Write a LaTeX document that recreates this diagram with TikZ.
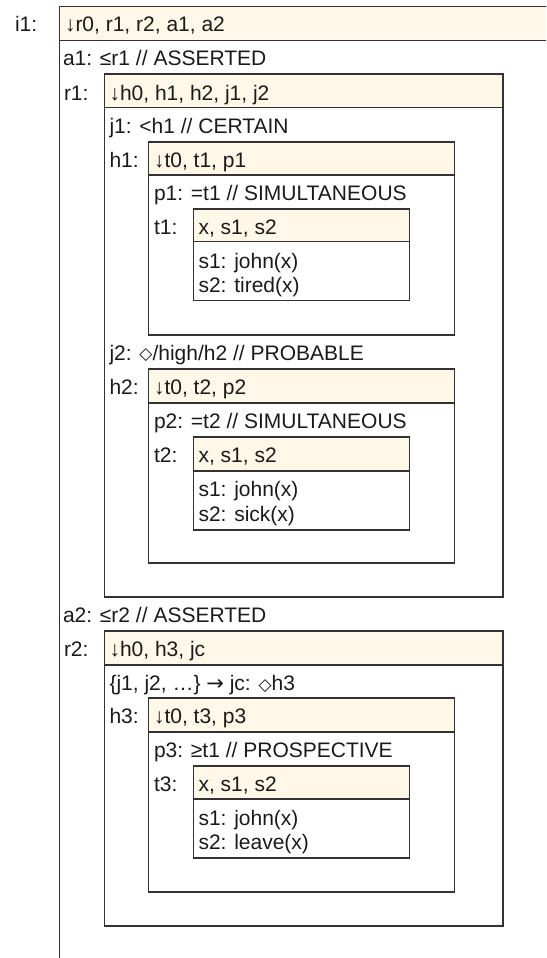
\documentclass[tikz,border=0pt]{standalone}
\usepackage{fontspec}
\setmainfont{Liberation Sans}
\newfontfamily\symfont{DejaVu Sans}
\definecolor{cream}{HTML}{FFF7E8}
\definecolor{edge}{HTML}{333333}
\definecolor{ink}{HTML}{1A1A1A}
\newcommand\fs{\fontsize{21}{24}\selectfont}
\newcommand\dia{\raisebox{0.5pt}{\symfont\fontsize{17}{17}\selectfont ◇}}
\newcommand\rarr{{\symfont →}}
\tikzset{
  frame/.style={draw=edge, line width=1.5pt, rectangle, anchor=north west, inner sep=0pt, outer sep=0pt},
  hdr/.style={frame, fill=cream},
  txt/.style={anchor=base west, inner sep=0pt, outer sep=0pt, font=\fs, text=ink},
}
\begin{document}
\begin{tikzpicture}[x=1pt,y=-1pt]
\useasboundingbox (0,0) rectangle (546,958);
\clip (0,0) rectangle (546,958);
% i1
\node[frame, minimum width=560, minimum height=1000] (i1) at (59.5,6.7) {};
\node[hdr, minimum width=560, minimum height=34] (i1h) at (59.5,6.7) {};
\node[txt] (i1l) at (15,32) {i1:};
\node[txt] (i1t) at (65,32) {↓r0, r1, r2, a1, a2};
\node[txt] (a1) at (63,66) {a1: ≤r1 // ASSERTED};
\node[txt] (r1l) at (64,100) {r1:};
% r1
\node[frame, minimum width=398.5, minimum height=523] (r1) at (104.5,74) {};
\node[hdr, minimum width=398.5, minimum height=33.3] (r1h) at (104.5,74) {};
\node[txt] (r1t) at (109.5,100) {↓h0, h1, h2, j1, j2};
\node[txt] (j1) at (109.5,133) {j1: <h1 // CERTAIN};
\node[txt] (h1l) at (109.5,167) {h1:};
% h1
\node[frame, minimum width=306, minimum height=193] (h1) at (148.7,142) {};
\node[hdr, minimum width=306, minimum height=33] (h1h) at (148.7,142) {};
\node[txt] (h1t) at (154,167) {↓t0, t1, p1};
\node[txt] (p1) at (154,200) {p1: =t1 // SIMULTANEOUS};
\node[txt] (t1l) at (154,234) {t1:};
% t1
\node[frame, minimum width=216, minimum height=91.7] (t1) at (193.7,209) {};
\node[hdr, minimum width=216, minimum height=32.7] (t1h) at (193.7,209) {};
\node[txt] (t1t) at (198.5,234) {x, s1, s2};
\node[txt] (t1a) at (198.5,268) {s1: john(x)};
\node[txt] (t1b) at (198.5,292.5) {s2: tired(x)};
% j2 / h2
\node[txt] (j2) at (109.5,360) {j2: \dia/high/h2 // PROBABLE};
\node[txt] (h2l) at (109.5,394) {h2:};
\node[frame, minimum width=306, minimum height=194] (h2) at (148.7,369) {};
\node[hdr, minimum width=306, minimum height=34] (h2h) at (148.7,369) {};
\node[txt] (h2t) at (154,394) {↓t0, t2, p2};
\node[txt] (p2) at (154,428) {p2: =t2 // SIMULTANEOUS};
\node[txt] (t2l) at (154,462) {t2:};
\node[frame, minimum width=216, minimum height=93] (t2) at (193.7,437) {};
\node[hdr, minimum width=216, minimum height=34] (t2h) at (193.7,437) {};
\node[txt] (t2t) at (198.5,462) {x, s1, s2};
\node[txt] (t2a) at (198.5,496.5) {s1: john(x)};
\node[txt] (t2b) at (198.5,521) {s2: sick(x)};
% a2 / r2
\node[txt] (a2) at (63,622) {a2: ≤r2 // ASSERTED};
\node[txt] (r2l) at (64,656) {r2:};
\node[frame, minimum width=398.5, minimum height=295] (r2) at (104.5,631) {};
\node[hdr, minimum width=398.5, minimum height=34] (r2h) at (104.5,631) {};
\node[txt] (r2t) at (109.5,656) {↓h0, h3, jc};
\node[txt] (jc) at (109.5,690.5) {\{j1, j2, …\} \rarr{} jc: \dia h3};
\node[txt] (h3l) at (109.5,723) {h3:};
\node[frame, minimum width=306, minimum height=194] (h3) at (148.7,698) {};
\node[hdr, minimum width=306, minimum height=34] (h3h) at (148.7,698) {};
\node[txt] (h3t) at (154,723) {↓t0, t3, p3};
\node[txt] (p3) at (154,757.5) {p3: ≥t1 // PROSPECTIVE};
\node[txt] (t3l) at (154,791) {t3:};
\node[frame, minimum width=216, minimum height=92] (t3) at (193.7,766) {};
\node[hdr, minimum width=216, minimum height=33] (t3h) at (193.7,766) {};
\node[txt] (t3t) at (198.5,791) {x, s1, s2};
\node[txt] (t3a) at (198.5,825) {s1: john(x)};
\node[txt] (t3b) at (198.5,849.5) {s2: leave(x)};
\end{tikzpicture}
\end{document}
